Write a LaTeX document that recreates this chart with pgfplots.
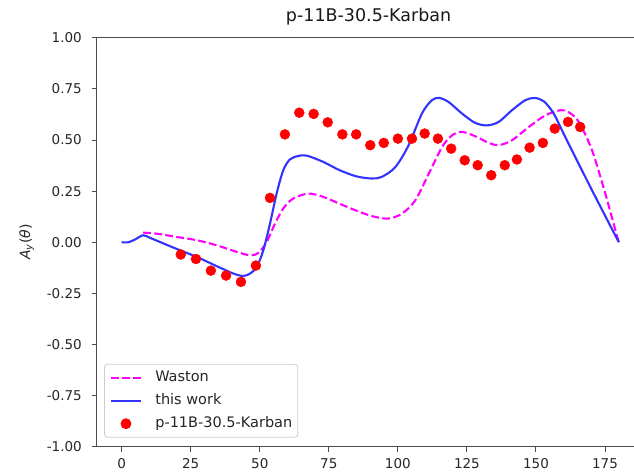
\documentclass[border=0pt]{standalone}
\usepackage{fontspec}
\setmainfont{DejaVu Sans}
\usepackage{pgfplots}
\pgfplotsset{compat=1.18}
\usetikzlibrary{calc}
\definecolor{mpmagenta}{rgb}{1,0,1}
\definecolor{mpblue}{rgb}{0.2,0.2,1}
\begin{document}
\begin{tikzpicture}
\begin{axis}[
  name=ax,
  scale only axis,
  width=546.9pt, height=408.7pt,
  xmin=-9, xmax=189, ymin=-1, ymax=1,
  xtick={0,25,50,75,100,125,150,175},
  xticklabels={0,25,50,75,100,125,150,175},
  ytick={-1,-0.75,-0.5,-0.25,0,0.25,0.5,0.75,1},
  yticklabels={-1.00,-0.75,-0.50,-0.25,0.00,0.25,0.50,0.75,1.00},
  xtick pos=bottom, ytick pos=left,
  tick align=outside,
  major tick length=5pt,
  axis line style={black!70, line width=1pt},
  every tick/.style={black!70, line width=1pt},
  tick label style={font=\fontsize{13.5}{16}\selectfont, text=black!85, inner sep=0pt},
  xticklabel style={anchor=north, yshift=-6.8pt},
  yticklabel style={anchor=east, xshift=-9.8pt},
  title={p-11B-30.5-Karban},
  title style={font=\fontsize{17.5}{20}\selectfont, text=black!90, anchor=base, at={(axis description cs:0.497,1)}, yshift=10pt, inner sep=0pt},
  ylabel={\textit{A}\textsubscript{\textit{y}}(\textit{θ})},
  ylabel style={font=\fontsize{14}{16}\selectfont, text=black!85, at={(axis description cs:-0.122,0.5)}, anchor=base, rotate=0, inner sep=0pt},
  legend cell align=left,
  legend image code/.code={\draw[mark repeat=2,mark phase=2,fill opacity=1,draw opacity=1,#1] plot coordinates {(0pt,0pt) (15pt,0pt) (30pt,0pt)}; \path (43.3pt,0pt);},
  legend style={at={(axis description cs:0.0132,0.022)}, anchor=south west,
    draw=black!20, line width=0.8pt, rounded corners=3pt, fill=white, fill opacity=0.8, text opacity=1,
    font=\fontsize{14.5}{17}\selectfont, text=black!85,
    inner xsep=5.5pt, inner ysep=6.5pt, row sep=9pt,
    nodes={inner sep=0pt, text height=11pt, text depth=3pt}},
]
\addplot[mpmagenta, line width=2.1pt, dash pattern=on 7.75pt off 3.37pt, smooth] coordinates {
(7.8,0.047) (12.7,0.042) (19.9,0.026) (27.2,0.010) (34.4,-0.015) (41.6,-0.047)
(46.5,-0.064) (49.5,-0.052) (52.5,0.001) (55.5,0.091) (58.5,0.165) (62.1,0.214)
(67.6,0.238) (73.0,0.222) (80.2,0.181) (87.0,0.144) (91.8,0.124) (96.7,0.116)
(101.5,0.140) (106.3,0.205) (111.2,0.336) (116.0,0.466) (119.6,0.523) (123.2,0.540)
(128.0,0.519) (132.9,0.486) (136.5,0.475) (141.3,0.499) (147.4,0.564) (153.4,0.621)
(158.8,0.646) (161.8,0.637) (165.5,0.589) (170.3,0.450) (175.1,0.238) (178.1,0.091) (180,0)
};
\addlegendentry{Waston}
\addplot[mpblue, line width=2.1pt, smooth] coordinates {
(0,0) (2.4,0.0) (4.8,0.013) (7.8,0.034) (10.9,0.018) (18.7,-0.026) (27.2,-0.072)
(34.4,-0.117) (40.4,-0.153) (44.0,-0.165) (46.5,-0.153) (48.9,-0.121) (51.3,-0.039)
(53.7,0.091) (56.1,0.238) (58.5,0.352) (60.9,0.405) (63.9,0.422) (67.0,0.424)
(73.0,0.393) (79.0,0.352) (85.1,0.322) (90.6,0.312) (94.2,0.320) (99.1,0.368)
(103.9,0.475) (108.7,0.630) (112.3,0.695) (115.0,0.706) (118.4,0.686) (123.2,0.630)
(128.0,0.584) (132.3,0.572) (136.5,0.589) (141.3,0.646) (146.1,0.695) (149.5,0.706)
(152.8,0.690) (156.4,0.630) (160.6,0.515) (170.3,0.254) (180,0)
};
\addlegendentry{this work}
\addplot[only marks, mark=*, mark size=5pt, mark options={draw=red, fill=red}] coordinates {
(21.4,-0.060) (26.9,-0.082) (32.3,-0.139) (37.8,-0.163) (43.2,-0.194) (48.6,-0.114)
(53.7,0.217) (59.1,0.528) (64.3,0.634) (69.5,0.628) (74.6,0.587) (79.9,0.528)
(84.9,0.528) (90.0,0.475) (94.9,0.486) (100.0,0.507) (105.1,0.507) (109.7,0.532)
(114.5,0.507) (119.3,0.458) (124.2,0.401) (128.9,0.377) (133.8,0.328) (138.7,0.377)
(143.1,0.405) (147.7,0.463) (152.5,0.486) (156.8,0.556) (161.6,0.589) (166.0,0.564)
};
\addlegendentry{p-11B-30.5-Karban}
\end{axis}
\pgfresetboundingbox
\path[use as bounding box] ($(ax.south west)+(-96.8pt,-26.3pt)$) rectangle ($(ax.north west)+(537.2pt,37.9pt)$);
\end{tikzpicture}
\end{document}
